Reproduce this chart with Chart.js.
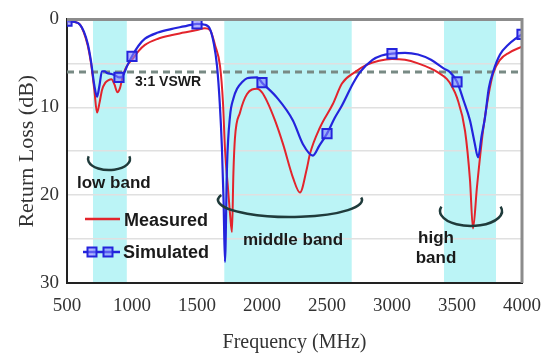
<!DOCTYPE html>
<html>
<head>
<meta charset="utf-8">
<script src="https://cdn.jsdelivr.net/npm/chart.js@4.4.1/dist/chart.umd.min.js"></script>
<style>
  body { margin: 0; background: #fff; }
  #wrap { width: 547px; height: 353px; }
</style>
</head>
<body>
<div id="wrap"><canvas id="rlChart" width="547" height="353"></canvas></div>
<script>
// frequency (MHz) and return loss (dB)
const measuredFreq = [500, 560, 600, 630, 660, 685, 710, 731, 750, 770, 795, 820, 842, 865, 888, 908, 928, 950, 975, 1000,
  1050, 1100, 1200, 1300, 1400, 1500, 1560, 1600, 1640, 1677, 1700, 1715, 1740, 1755, 1769, 1780, 1792, 1831, 1885, 1962,
  2000, 2038, 2100, 2162, 2238, 2292, 2346, 2369, 2446, 2546, 2615, 2715, 2800, 2900, 3000, 3100, 3200, 3300, 3350, 3423,
  3460, 3500, 3562, 3600, 3623, 3654, 3700, 3740, 3777, 3831, 3900, 4000];
const measuredRL = [0.2, 0.3, 0.6, 1.5, 3.0, 5.0, 8.0, 10.6, 9.5, 8.0, 7.2, 6.9, 6.8, 7.4, 8.3, 7.8, 6.5, 5.6, 5.0, 4.6,
  3.6, 2.9, 2.2, 1.8, 1.5, 1.2, 1.0, 1.2, 3.0, 5.3, 9.5, 14.7, 19.5, 22.3, 24.2, 17.5, 13.5, 10.6, 8.5, 7.9,
  8.3, 9.3, 11.5, 14.2, 18.0, 19.7, 16.9, 15.3, 12.3, 9.6, 7.3, 6.0, 5.2, 4.7, 4.5, 4.6, 5.0, 5.6, 6.0, 6.8,
  7.6, 8.9, 12.7, 18.3, 23.8, 19.0, 12.7, 8.8, 6.2, 4.6, 3.8, 3.1];

const simulatedFreq = [500, 560, 600, 630, 660, 685, 710, 731, 750, 769, 790, 808, 840, 862, 900, 920, 940, 965, 1000,
  1050, 1100, 1200, 1300, 1400, 1500, 1560, 1600, 1630, 1654, 1675, 1692, 1705, 1715, 1731, 1754, 1780, 1808, 1850, 1885,
  1962, 2000, 2115, 2238, 2315, 2392, 2440, 2500, 2560, 2615, 2700, 2754, 2850, 2920, 3000, 3100, 3200, 3300, 3400, 3446,
  3500, 3550, 3600, 3635, 3662, 3690, 3715, 3745, 3777, 3831, 3900, 3950, 4000];
const simulatedRL = [0.2, 0.3, 0.6, 1.4, 2.8, 4.8, 7.5, 8.8, 7.5, 5.9, 5.9, 6.1, 6.2, 6.3, 6.6, 6.6, 6.1, 5.2, 4.2,
  3.0, 2.2, 1.5, 1.1, 0.8, 0.5, 0.6, 1.1, 2.8, 5.3, 9.5, 14.7, 21.0, 27.6, 16.6, 11.0, 9.0, 7.9, 7.1, 6.7,
  6.6, 7.2, 8.9, 11.5, 14.2, 15.5, 14.4, 13.0, 11.2, 9.8, 7.3, 6.0, 4.6, 4.1, 3.9, 3.8, 4.0, 4.6, 5.6, 6.0,
  7.1, 9.2, 11.5, 14.0, 15.7, 13.2, 11.2, 7.8, 6.0, 4.0, 2.8, 2.2, 1.7];

const markerFreq = [500, 900, 1000, 1500, 2000, 2500, 3000, 3500, 4000];
const vswrLevel = 6;
const bandLimits = [[700, 960], [1710, 2690], [3400, 3800]];
const xTicks = [500, 1000, 1500, 2000, 2500, 3000, 3500, 4000];
const yTicks = [0, 5, 10, 15, 20, 25, 30];

const toPoints = (xs, ys) => xs.map((x, i) => ({ x: x, y: ys[i] }));

const bandPlugin = {
    id: 'bands',
    beforeDraw(chart) {
        const { ctx, chartArea } = chart;
        const x = chart.scales.x;
        ctx.save();
        ctx.fillStyle = '#bbf4f6';
        bandLimits.forEach(b => {
            const x0 = x.getPixelForValue(b[0]);
            const x1 = x.getPixelForValue(b[1]);
            ctx.fillRect(x0, chartArea.top, x1 - x0, chartArea.bottom - chartArea.top);
        });
        ctx.restore();
    }
};

const notesPlugin = {
    id: 'notes',
    afterDatasetsDraw(chart) {
        const { ctx, chartArea } = chart;
        ctx.save();

        // frame: top and right edges are grey
        ctx.strokeStyle = '#8c8c8c';
        ctx.lineWidth = 3;
        ctx.beginPath();
        ctx.moveTo(chartArea.left, chartArea.top);
        ctx.lineTo(chartArea.right, chartArea.top);
        ctx.lineTo(chartArea.right, chartArea.bottom);
        ctx.stroke();

        // band braces
        ctx.strokeStyle = '#1f3b3b';
        ctx.lineWidth = 2.5;
        ctx.beginPath();
        ctx.ellipse(109, 159, 21, 11, 0, -0.25, Math.PI + 0.25);
        ctx.stroke();
        ctx.beginPath();
        ctx.ellipse(290, 200, 72, 17, 0, -0.15, Math.PI + 0.3);
        ctx.stroke();
        ctx.beginPath();
        ctx.ellipse(471, 211, 31, 15, 0, -0.3, Math.PI + 0.3);
        ctx.stroke();

        // labels
        ctx.fillStyle = '#1a1a1a';
        ctx.textBaseline = 'middle';
        ctx.textAlign = 'left';
        ctx.font = 'bold 14px "Liberation Sans", Arial, sans-serif';
        ctx.fillText('3:1 VSWR', 135, 82);
        ctx.font = 'bold 17px "Liberation Sans", Arial, sans-serif';
        ctx.fillText('low band', 77, 183);
        ctx.fillText('middle band', 243, 240);
        ctx.textAlign = 'center';
        ctx.fillText('high', 436, 238);
        ctx.fillText('band', 436, 258);

        // legend
        ctx.textAlign = 'left';
        ctx.font = 'bold 18px "Liberation Sans", Arial, sans-serif';
        ctx.strokeStyle = '#e3242c';
        ctx.lineWidth = 2.5;
        ctx.beginPath();
        ctx.moveTo(85, 219);
        ctx.lineTo(120, 219);
        ctx.stroke();
        ctx.fillText('Measured', 124, 221);

        ctx.strokeStyle = '#2424dc';
        ctx.beginPath();
        ctx.moveTo(83, 252);
        ctx.lineTo(120, 252);
        ctx.stroke();
        ctx.fillStyle = 'rgba(130,130,255,0.6)';
        ctx.lineWidth = 2;
        [92, 108].forEach(px => {
            ctx.fillRect(px - 4.5, 247.5, 9, 9);
            ctx.strokeRect(px - 4.5, 247.5, 9, 9);
        });
        ctx.fillStyle = '#1a1a1a';
        ctx.fillText('Simulated', 123, 253);
        ctx.restore();
    }
};

const ctx = document.getElementById('rlChart').getContext('2d');
new Chart(ctx, {
    type: 'line',
    data: {
        datasets: [
            {
                label: '3:1 VSWR',
                data: [{ x: 500, y: vswrLevel }, { x: 4000, y: vswrLevel }],
                borderColor: '#788a84',
                borderWidth: 3,
                borderDash: [7, 5],
                pointRadius: 0,
                order: 3
            },
            {
                label: 'Measured',
                data: toPoints(measuredFreq, measuredRL),
                borderColor: '#e3242c',
                borderWidth: 2,
                pointRadius: 0,
                cubicInterpolationMode: 'monotone',
                order: 2
            },
            {
                label: 'Simulated',
                data: toPoints(simulatedFreq, simulatedRL),
                borderColor: '#2424dc',
                borderWidth: 2.2,
                cubicInterpolationMode: 'monotone',
                pointStyle: 'rect',
                pointRadius: c => markerFreq.includes(c.raw.x) ? 6.5 : 0,
                pointBackgroundColor: 'rgba(130,130,255,0.6)',
                pointBorderColor: '#2424dc',
                pointBorderWidth: 2,
                order: 1
            }
        ]
    },
    options: {
        responsive: false,
        animation: false,
        layout: { padding: { top: 18, right: 25, left: 0, bottom: 0 } },
        plugins: {
            legend: { display: false },
            tooltip: { enabled: false }
        },
        scales: {
            x: {
                type: 'linear',
                min: 500,
                max: 4000,
                afterBuildTicks: s => { s.ticks = xTicks.map(v => ({ value: v })); },
                afterFit: s => {
                    s.height = 70;
                    s.paddingLeft = 0;
                    s.paddingRight = 0;
                },
                grid: { display: false, drawTicks: false },
                border: { color: '#222', width: 2 },
                ticks: {
                    padding: 12,
                    color: '#333',
                    maxRotation: 0,
                    font: { family: 'Liberation Serif', size: 19 },
                    callback: v => String(v)
                },
                title: {
                    display: true,
                    text: 'Frequency (MHz)',
                    color: '#333',
                    padding: 0,
                    font: { family: 'Liberation Serif', size: 20, lineHeight: 1 }
                }
            },
            y: {
                min: 0,
                max: 30,
                reverse: true,
                afterBuildTicks: s => { s.ticks = yTicks.map(v => ({ value: v })); },
                afterFit: s => { s.width = 67; },
                grid: {
                    drawTicks: false,
                    lineWidth: 1.5,
                    color: c => (c.tick && c.tick.value % 30 === 0) ? 'rgba(0,0,0,0)' : '#e0e0e0'
                },
                border: { color: '#222', width: 2 },
                ticks: {
                    padding: 8,
                    color: '#333',
                    font: { family: 'Liberation Serif', size: 19 },
                    callback: v => (v % 10 === 0 ? String(v) : '')
                },
                title: {
                    display: true,
                    text: 'Return Loss (dB)',
                    color: '#333',
                    padding: { top: 14, bottom: 0 },
                    font: { family: 'Liberation Serif', size: 22, lineHeight: 1.2 }
                }
            }
        }
    },
    plugins: [bandPlugin, notesPlugin]
});
</script>
</body>
</html>
